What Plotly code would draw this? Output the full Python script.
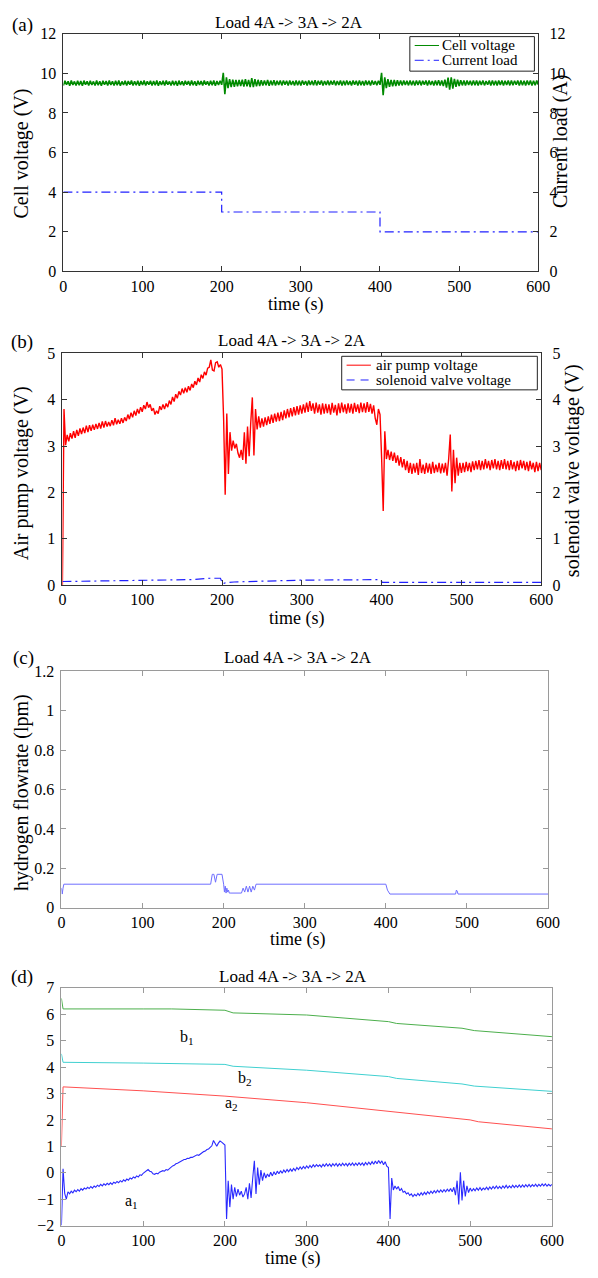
import numpy as np
import plotly.graph_objects as go

W, H = 598, 1278

# ---------------- data ----------------
time_s = np.arange(0, 601, 2)  # sampling grid, 2 s

# (a) cell voltage (V), sampled every 2 s
cell_voltage = [
    9.38, 9.62, 9.42, 9.60, 9.37, 9.64, 9.41, 9.59, 9.38, 9.62,
    9.40, 9.61, 9.37, 9.63, 9.42, 9.60, 9.39, 9.62, 9.41, 9.59,
    9.38, 9.63, 9.40, 9.60, 9.37, 9.62, 9.42, 9.61, 9.39, 9.63,
    9.41, 9.60, 9.38, 9.62, 9.40, 9.64, 9.37, 9.59, 9.41, 9.62,
    9.39, 9.61, 9.42, 9.63, 9.38, 9.60, 9.40, 9.62, 9.37, 9.61,
    9.41, 9.63, 9.39, 9.60, 9.42, 9.62, 9.38, 9.61, 9.40, 9.64,
    9.37, 9.60, 9.41, 9.62, 9.39, 9.63, 9.42, 9.59, 9.38, 9.62,
    9.40, 9.61, 9.37, 9.63, 9.41, 9.60, 9.39, 9.62, 9.42, 9.61,
    9.38, 9.63, 9.40, 9.60, 9.37, 9.62, 9.41, 9.61, 9.39, 9.63,
    9.42, 9.60, 9.38, 9.62, 9.40, 9.64, 9.37, 9.61, 9.41, 9.62,
    9.42, 10.02, 8.95, 9.80, 9.25, 9.70, 9.30, 9.68, 9.32, 9.66,
    9.34, 9.66, 9.36, 9.68, 9.33, 9.70, 9.34, 9.66, 9.30, 9.76,
    9.30, 9.70, 9.34, 9.67, 9.36, 9.65, 9.38, 9.64, 9.39, 9.66,
    9.37, 9.63, 9.40, 9.65, 9.38, 9.62, 9.41, 9.64, 9.39, 9.63,
    9.42, 9.62, 9.38, 9.64, 9.41, 9.61, 9.39, 9.63, 9.40, 9.62,
    9.38, 9.64, 9.42, 9.61, 9.39, 9.63, 9.41, 9.62, 9.40, 9.65,
    9.39, 9.62, 9.42, 9.64, 9.38, 9.61, 9.41, 9.63, 9.40, 9.62,
    9.42, 9.64, 9.39, 9.61, 9.41, 9.63, 9.38, 9.62, 9.40, 9.64,
    9.41, 9.61, 9.39, 9.63, 9.42, 9.62, 9.38, 9.64, 9.40, 9.61,
    9.39, 9.63, 9.41, 9.62, 9.38, 9.64, 9.42, 9.61, 9.40, 9.62,
    9.42, 10.02, 8.90, 9.80, 9.25, 9.70, 9.32, 9.67, 9.34, 9.66,
    9.36, 9.65, 9.38, 9.64, 9.39, 9.63, 9.41, 9.62, 9.39, 9.64,
    9.40, 9.62, 9.38, 9.63, 9.41, 9.64, 9.39, 9.62, 9.42, 9.63,
    9.38, 9.64, 9.41, 9.61, 9.39, 9.63, 9.40, 9.65, 9.38, 9.64,
    9.36, 9.68, 9.28, 9.78, 9.18, 9.80, 9.22, 9.72, 9.32, 9.68,
    9.36, 9.65, 9.39, 9.63, 9.38, 9.64, 9.41, 9.62, 9.39, 9.64,
    9.40, 9.63, 9.38, 9.62, 9.41, 9.64, 9.39, 9.61, 9.42, 9.63,
    9.38, 9.64, 9.40, 9.62, 9.39, 9.63, 9.41, 9.64, 9.38, 9.62,
    9.41, 9.63, 9.39, 9.64, 9.40, 9.62, 9.42, 9.63, 9.38, 9.64,
    9.40, 9.62, 9.39, 9.63, 9.41, 9.64, 9.38, 9.62, 9.40, 9.63,
    9.42,
]
current_t = [0, 200, 400, 600]
current_load = [4, 3, 2, 2]

# (b) air pump voltage (V), sampled every 2 s
air_pump_voltage = [
    0.00, 3.80, 3.02, 3.24, 3.10, 3.28, 3.16, 3.32, 3.18, 3.35,
    3.22, 3.38, 3.26, 3.40, 3.28, 3.44, 3.30, 3.45, 3.33, 3.46,
    3.35, 3.48, 3.37, 3.50, 3.38, 3.53, 3.40, 3.54, 3.42, 3.52,
    3.43, 3.56, 3.45, 3.60, 3.47, 3.57, 3.48, 3.60, 3.50, 3.62,
    3.54, 3.68, 3.58, 3.72, 3.62, 3.76, 3.66, 3.80, 3.70, 3.84,
    3.74, 3.88, 3.80, 3.95, 3.83, 3.90, 3.76, 3.82, 3.68, 3.76,
    3.70, 3.86, 3.78, 3.90, 3.80, 3.92, 3.84, 3.98, 3.90, 4.06,
    3.96, 4.12, 4.03, 4.18, 4.10, 4.24, 4.14, 4.26, 4.16, 4.29,
    4.20, 4.34, 4.26, 4.40, 4.32, 4.47, 4.38, 4.54, 4.46, 4.60,
    4.53, 4.68, 4.70, 4.86, 4.64, 4.62, 4.80, 4.82, 4.70, 4.76,
    4.66, 3.60, 1.95, 3.70, 2.40, 3.30, 2.90, 3.12, 2.95, 3.05,
    2.85, 2.75, 2.92, 2.70, 3.30, 2.62, 3.42, 2.78, 3.50, 4.05,
    2.80, 3.80, 3.36, 3.64, 3.40, 3.60, 3.42, 3.62, 3.45, 3.64,
    3.48, 3.68, 3.50, 3.70, 3.53, 3.72, 3.54, 3.74, 3.56, 3.77,
    3.60, 3.80, 3.62, 3.82, 3.64, 3.84, 3.66, 3.86, 3.68, 3.88,
    3.70, 3.90, 3.72, 3.94, 3.74, 3.97, 3.76, 3.92, 3.70, 3.94,
    3.72, 3.90, 3.68, 3.92, 3.70, 3.91, 3.71, 3.90, 3.68, 3.93,
    3.72, 3.89, 3.66, 3.92, 3.71, 3.94, 3.73, 3.90, 3.70, 3.92,
    3.72, 3.91, 3.70, 3.93, 3.74, 3.90, 3.71, 3.94, 3.73, 3.92,
    3.72, 3.95, 3.74, 3.91, 3.70, 3.88, 3.60, 3.46, 3.80, 3.68,
    2.75, 1.60, 3.32, 2.72, 2.92, 2.70, 2.88, 2.68, 2.86, 2.64,
    2.80, 2.58, 2.76, 2.54, 2.72, 2.48, 2.68, 2.42, 2.64, 2.40,
    2.62, 2.43, 2.64, 2.38, 2.72, 2.42, 2.60, 2.40, 2.64, 2.43,
    2.62, 2.40, 2.66, 2.42, 2.60, 2.44, 2.64, 2.41, 2.62, 2.43,
    2.64, 2.36, 2.72, 3.25, 2.02, 2.92, 2.20, 2.75, 2.36, 2.64,
    2.42, 2.64, 2.44, 2.66, 2.46, 2.64, 2.44, 2.67, 2.48, 2.68,
    2.50, 2.70, 2.48, 2.68, 2.50, 2.72, 2.52, 2.68, 2.48, 2.70,
    2.52, 2.72, 2.50, 2.68, 2.48, 2.70, 2.51, 2.72, 2.50, 2.68,
    2.48, 2.70, 2.50, 2.66, 2.46, 2.68, 2.48, 2.70, 2.52, 2.68,
    2.48, 2.66, 2.46, 2.68, 2.50, 2.64, 2.44, 2.66, 2.46, 2.64,
    2.48,
]
valve_t = [0, 60, 120, 160, 185, 198, 201, 204, 215, 250, 300, 398, 401, 450, 600]
valve_voltage = [0.08, 0.09, 0.10, 0.12, 0.15, 0.15, 0.03, 0.05, 0.07, 0.09, 0.11, 0.12, 0.06, 0.06, 0.06]

# (c) hydrogen flowrate (lpm)
h2_t = [0, 1, 2, 3, 184, 186, 188, 190, 192, 194, 198, 200, 201, 202, 203, 204, 205,
        206, 207, 209, 222, 224, 226, 228, 230, 232, 234, 236, 238, 240, 400, 402,
        405, 486, 487, 488, 489, 600]
h2_flow = [0.10, 0.07, 0.10, 0.12, 0.12, 0.17, 0.17, 0.13, 0.17, 0.17, 0.17, 0.12, 0.08,
           0.11, 0.075, 0.10, 0.08, 0.09, 0.075, 0.075, 0.075, 0.10, 0.08, 0.11, 0.08,
           0.11, 0.08, 0.11, 0.09, 0.12, 0.12, 0.09, 0.07, 0.07, 0.09, 0.085, 0.07, 0.07]

# (d) parameters b1, b2, a2 (smooth) and a1 (every 2 s)
b1_t = [0, 1, 2, 100, 135, 200, 210, 300, 400, 410, 490, 505, 600]
b1_v = [6.6, 6.3, 6.2, 6.2, 6.2, 6.15, 6.05, 5.97, 5.72, 5.65, 5.47, 5.38, 5.15]
b2_t = [0, 1, 2, 100, 200, 210, 300, 400, 410, 490, 505, 600]
b2_v = [4.5, 4.25, 4.18, 4.15, 4.1, 4.03, 3.88, 3.64, 3.57, 3.36, 3.28, 3.08]
a2_t = [0, 1, 2, 100, 200, 300, 400, 500, 510, 600]
a2_v = [1.0, 2.2, 3.25, 3.1, 2.9, 2.65, 2.33, 2.0, 1.93, 1.66]
a1_v = [
    -2.00, 0.15, -0.78, -1.00, -0.72, -0.80, -0.70, -0.76, -0.66, -0.72,
    -0.64, -0.70, -0.60, -0.66, -0.58, -0.62, -0.55, -0.60, -0.52, -0.58,
    -0.50, -0.55, -0.47, -0.52, -0.44, -0.50, -0.42, -0.47, -0.40, -0.45,
    -0.38, -0.44, -0.36, -0.40, -0.33, -0.38, -0.30, -0.35, -0.27, -0.32,
    -0.24, -0.28, -0.20, -0.24, -0.16, -0.20, -0.12, -0.16, -0.08, -0.10,
    -0.02, 0.02, 0.08, 0.12, 0.06, 0.04, -0.04, -0.06, -0.02, -0.04,
    0.02, 0.04, 0.08, 0.06, 0.12, 0.10, 0.16, 0.20, 0.26, 0.28,
    0.34, 0.36, 0.40, 0.44, 0.46, 0.50, 0.50, 0.55, 0.54, 0.58,
    0.58, 0.62, 0.64, 0.68, 0.66, 0.72, 0.74, 0.80, 0.82, 0.88,
    0.90, 0.96, 1.02, 1.22, 1.10, 1.00, 1.12, 1.20, 1.16, 1.12,
    1.05, -1.75, -0.30, -1.30, -0.45, -1.00, -0.55, -0.90, -0.62, -0.85,
    -0.70, -0.92, -0.80, -0.55, -1.00, -0.40, -0.95, -0.20, 0.45, -0.80,
    0.20, -0.45, 0.10, -0.30, 0.00, -0.20, -0.05, -0.15, 0.02, -0.12,
    0.04, -0.08, 0.06, -0.04, 0.08, -0.02, 0.10, 0.02, 0.12, 0.04,
    0.14, 0.06, 0.16, 0.08, 0.20, 0.12, 0.22, 0.14, 0.24, 0.16,
    0.26, 0.18, 0.28, 0.20, 0.30, 0.22, 0.31, 0.24, 0.30, 0.22,
    0.32, 0.24, 0.34, 0.25, 0.33, 0.24, 0.34, 0.26, 0.35, 0.25,
    0.34, 0.26, 0.36, 0.27, 0.35, 0.26, 0.36, 0.28, 0.37, 0.27,
    0.36, 0.28, 0.38, 0.29, 0.37, 0.28, 0.39, 0.30, 0.40, 0.31,
    0.42, 0.32, 0.44, 0.34, 0.46, 0.36, 0.45, 0.30, 0.42, 0.25,
    0.20, -1.75, -0.20, -0.65, -0.50, -0.62, -0.52, -0.68, -0.60, -0.74,
    -0.70, -0.80, -0.76, -0.86, -0.80, -0.90, -0.82, -0.88, -0.78, -0.86,
    -0.76, -0.84, -0.74, -0.82, -0.72, -0.80, -0.70, -0.78, -0.68, -0.76,
    -0.66, -0.74, -0.65, -0.73, -0.64, -0.72, -0.62, -0.70, -0.60, -0.72,
    -0.55, -0.85, -0.30, -1.20, 0.02, -1.05, -0.30, -0.90, -0.50, -0.75,
    -0.58, -0.70, -0.60, -0.68, -0.58, -0.66, -0.56, -0.66, -0.58, -0.64,
    -0.55, -0.64, -0.54, -0.62, -0.52, -0.60, -0.50, -0.60, -0.52, -0.60,
    -0.50, -0.58, -0.48, -0.58, -0.50, -0.57, -0.47, -0.56, -0.48, -0.55,
    -0.46, -0.55, -0.46, -0.54, -0.45, -0.53, -0.44, -0.53, -0.45, -0.52,
    -0.43, -0.52, -0.44, -0.51, -0.42, -0.50, -0.42, -0.51, -0.44, -0.50,
    -0.44,
]
d_labels = ["b<sub>1</sub>", "b<sub>2</sub>", "a<sub>2</sub>", "a<sub>1</sub>"]
d_label_t = [154, 224, 208, 86]
d_label_v = [5.1, 3.56, 2.63, -1.1]

title_text = "Load 4A -> 3A -> 2A"
x_ticks = [0, 100, 200, 300, 400, 500, 600]

# ---------------- styling helpers ----------------
FONT = "Liberation Serif, Times New Roman, serif"
DASHDOT = "9px,4px,2px,4px"
C_GREEN = "#008a00"
C_BLUE = "#2020ff"
C_RED = "#ff0000"


def px_x(p):
    return p / W


def px_y(p):
    return 1 - p / H


def xdom(l, r):
    return [px_x(l), px_x(r)]


def ydom(t, b):
    return [px_y(b), px_y(t)]


def xaxis_cfg(dom, anchor, color, fs=16):
    return dict(domain=dom, anchor=anchor, range=[0, 600], tickvals=x_ticks,
                showgrid=False, zeroline=False, showline=True, linecolor=color,
                linewidth=1, mirror="ticks", ticks="inside", ticklen=5,
                tickcolor=color, tickfont=dict(family=FONT, size=fs, color="black"))


def yaxis_cfg(dom, anchor, rng, dtick, color, mirror, fs=16, side="left",
              overlaying=None, ticktext=None, tickvals=None, standoff=3):
    d = dict(domain=dom, anchor=anchor, range=rng, showgrid=False, zeroline=False,
             showline=True, linecolor=color, linewidth=1, mirror=mirror,
             ticks="inside", ticklen=5, tickcolor=color, side=side,
             ticklabelstandoff=standoff,
             tickfont=dict(family=FONT, size=fs, color="black"))
    if tickvals is not None:
        d.update(tickmode="array", tickvals=tickvals, ticktext=ticktext)
    else:
        d.update(tick0=rng[0], dtick=dtick)
    if overlaying:
        d["overlaying"] = overlaying
    return d


fig = go.Figure()

# (a)
fig.add_trace(go.Scatter(x=time_s, y=cell_voltage, mode="lines", name="Cell voltage",
                         line=dict(color=C_GREEN, width=1.6), xaxis="x", yaxis="y",
                         showlegend=False))
fig.add_trace(go.Scatter(x=current_t, y=current_load, mode="lines", name="Current load",
                         line=dict(color=C_BLUE, width=1.2, dash=DASHDOT, shape="hv"),
                         xaxis="x", yaxis="y2", showlegend=False))
# (b)
fig.add_trace(go.Scatter(x=time_s, y=air_pump_voltage, mode="lines", name="air pump voltage",
                         line=dict(color=C_RED, width=1.4), xaxis="x2", yaxis="y3",
                         showlegend=False))
fig.add_trace(go.Scatter(x=valve_t, y=valve_voltage, mode="lines", name="solenoid valve voltage",
                         line=dict(color=C_BLUE, width=1.2, dash=DASHDOT),
                         xaxis="x2", yaxis="y4", showlegend=False))
# (c)
fig.add_trace(go.Scatter(x=h2_t, y=h2_flow, mode="lines", showlegend=False,
                         line=dict(color="#6e6eff", width=1), xaxis="x3", yaxis="y5"))
# (d)
fig.add_trace(go.Scatter(x=b1_t, y=b1_v, mode="lines", showlegend=False,
                         line=dict(color="#4caf4c", width=1), xaxis="x4", yaxis="y6"))
fig.add_trace(go.Scatter(x=b2_t, y=b2_v, mode="lines", showlegend=False,
                         line=dict(color="#40d0d0", width=1), xaxis="x4", yaxis="y6"))
fig.add_trace(go.Scatter(x=a2_t, y=a2_v, mode="lines", showlegend=False,
                         line=dict(color="#ff5050", width=1), xaxis="x4", yaxis="y6"))
fig.add_trace(go.Scatter(x=time_s, y=a1_v, mode="lines", showlegend=False,
                         line=dict(color="#2a2aff", width=1.1), xaxis="x4", yaxis="y6"))

DARK = "#333333"
LIGHT = "#9a9a9a"

fig.update_layout(
    width=W, height=H, margin=dict(l=0, r=0, t=0, b=0),
    paper_bgcolor="white", plot_bgcolor="white",
    font=dict(family=FONT, color="black"),
    xaxis=xaxis_cfg(xdom(61, 549), "y", DARK),
    yaxis=yaxis_cfg(ydom(26, 267), "x", [0, 12], 2, DARK, False),
    yaxis2=yaxis_cfg(ydom(26, 267), "x", [0, 12], 2, DARK, False, side="right",
                     overlaying="y", standoff=7),
    xaxis2=xaxis_cfg(xdom(60, 552), "y3", DARK),
    yaxis3=yaxis_cfg(ydom(350, 585), "x2", [0, 5], 1, DARK, False),
    yaxis4=yaxis_cfg(ydom(350, 585), "x2", [0, 5], 1, DARK, False, side="right",
                     overlaying="y3", standoff=7),
    xaxis3=xaxis_cfg(xdom(59, 559), "y5", LIGHT),
    yaxis5=yaxis_cfg(ydom(672, 912), "x3", [0, 1.2], 0.2, LIGHT, "ticks",
                     tickvals=[0, 0.2, 0.4, 0.6, 0.8, 1.0, 1.2],
                     ticktext=["0", "0.2", "0.4", "0.6", "0.8", "1", "1.2"]),
    xaxis4=xaxis_cfg(xdom(59, 563), "y6", LIGHT),
    yaxis6=yaxis_cfg(ydom(993, 1234), "x4", [-2, 7], 1, LIGHT, "ticks"),
)

ann = []
shapes = []


def paper_text(text, x, y, size, angle=0, xanchor="center"):
    ann.append(dict(text=text, x=px_x(x), y=px_y(y), xref="paper", yref="paper",
                    showarrow=False, xanchor=xanchor, yanchor="middle", textangle=angle,
                    font=dict(family=FONT, size=size, color="black")))


# panel labels and titles
for lab, (lx, ly), (tx, ty) in zip(["(a)", "(b)", "(c)", "(d)"],
                                   [(19, 17), (19, 338), (20, 659), (19, 982)],
                                   [(293, 15), (296, 337), (302, 658), (297, 982)]):
    paper_text(lab, lx, ly, 19)
    paper_text(title_text, tx, ty, 17)

# x-axis titles
for (xx, yy) in [(300, 300), (301, 619), (302, 944), (297, 1267)]:
    paper_text("time (s)", xx, yy, 18)

# y-axis titles
paper_text("Cell voltage (V)", 18, 148, 20, -90)
paper_text("Current load (A)", 572, 135, 20, -90)
paper_text("Air pump voltage (V)", 18, 472, 20, -90)
paper_text("solenoid valve voltage (V)", 584, 469, 20, -90)
paper_text("hydrogen flowrate (lpm)", 18, 795, 20, -90)

# series labels in (d)
for txt, tt, vv in zip(d_labels, d_label_t, d_label_v):
    ann.append(dict(text=txt, x=tt, y=vv, xref="x4", yref="y6", showarrow=False,
                    font=dict(family=FONT, size=16, color="black")))


# legend boxes (key drawn as decoration)
def legend_box(x0, y0, x1, y1, entries, sample_x0, sample_x1, text_x):
    shapes.append(dict(type="rect", xref="paper", yref="paper",
                       x0=px_x(x0), x1=px_x(x1), y0=px_y(y1), y1=px_y(y0),
                       line=dict(color="#222222", width=1), fillcolor="white", layer="above"))
    for (name, color, dash, yy) in entries:
        shapes.append(dict(type="line", xref="paper", yref="paper",
                           x0=px_x(sample_x0), x1=px_x(sample_x1), y0=px_y(yy), y1=px_y(yy),
                           line=dict(color=color, width=1, dash=dash), layer="above"))
        paper_text(name, text_x, yy, 15, xanchor="left")


legend_box(417, 29, 545, 64,
           [("Cell voltage", C_GREEN, "solid", 38), ("Current load", C_BLUE, DASHDOT, 53)],
           422, 447, 448)
legend_box(347, 353, 548, 387,
           [("air pump voltage", C_RED, "solid", 362), ("solenoid valve voltage", C_BLUE, "8px,6px", 377)],
           352, 377, 380)

fig.update_layout(annotations=ann, shapes=shapes)

fig.write_html("out.html")
